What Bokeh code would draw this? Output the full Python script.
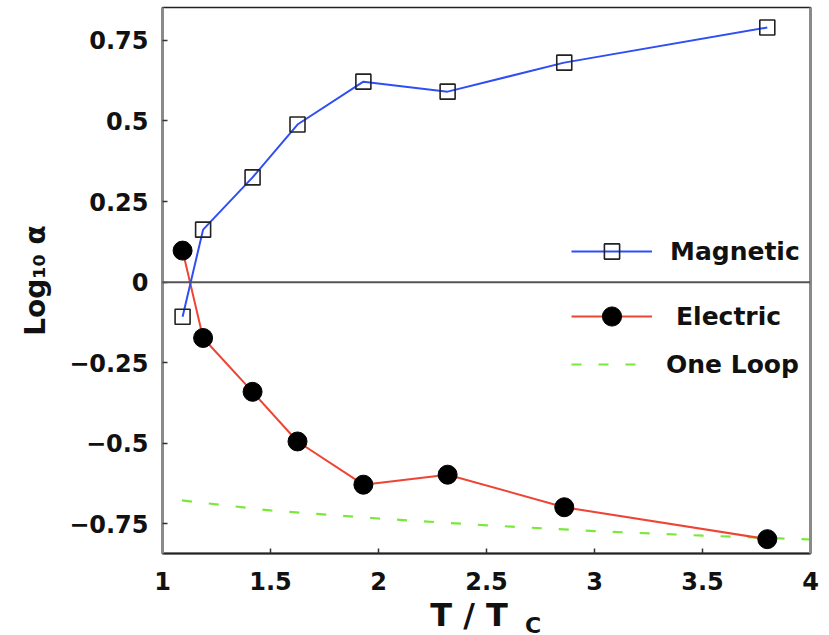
from bokeh.plotting import figure
from bokeh.layouts import column
from bokeh.models import (Range1d, FixedTicker, LinearAxis, Legend, LegendItem, Span)
from bokeh.core.properties import value
from bokeh.embed import file_html
from bokeh.resources import INLINE

# ---- data ----
t_points = [1.093, 1.188, 1.417, 1.625, 1.93, 2.32, 2.86, 3.80]
magnetic = [-0.107, 0.163, 0.325, 0.489, 0.622, 0.591, 0.681, 0.790]
electric = [0.098, -0.173, -0.340, -0.494, -0.628, -0.597, -0.698, -0.797]

loop_t = [1.09, 1.5, 2.0, 2.5, 3.0, 3.5, 4.0]
loop_y = [-0.677, -0.708, -0.733, -0.754, -0.772, -0.786, -0.798]

x_ticks = [1, 1.5, 2, 2.5, 3, 3.5, 4]
x_tick_labels = ["1", "1.5", "2", "2.5", "3", "3.5", "4"]
y_ticks = [-0.75, -0.5, -0.25, 0, 0.25, 0.5, 0.75]
y_tick_labels = ["\u22120.75", "\u22120.5", "\u22120.25", "0", "0.25", "0.5", "0.75"]
y_title = "Log\u2081\u2080 \u03b1"

FONT = "DejaVu Sans"
INK = "#111111"

# ---- layout sizes (px) ----
TOTAL_W, TOTAL_H = 829, 635
MAIN_H = 600
STRIP_H = TOTAL_H - MAIN_H   # x-title strip
BORDER_L, BORDER_R = 162, 19
FRAME_L, FRAME_R = BORDER_L, TOTAL_W - BORDER_R

p = figure(width=TOTAL_W, height=MAIN_H, output_backend="svg", toolbar_location=None,
           x_range=Range1d(1, 4), y_range=Range1d(-0.8415, 0.852),
           min_border_left=BORDER_L, min_border_right=BORDER_R, min_border_top=7,
           min_border_bottom=47)
p.grid.visible = False
p.background_fill_color = "white"
p.border_fill_color = "white"
p.outline_line_color = "#222222"
p.outline_line_width = 1.5

for ax, ticks, labels in ((p.xaxis[0], x_ticks, x_tick_labels),
                          (p.yaxis[0], y_ticks, y_tick_labels)):
    ax.ticker = FixedTicker(ticks=ticks)
    ax.major_label_overrides = {t: l for t, l in zip(ticks, labels)}
    ax.major_tick_in = 5
    ax.major_tick_out = 0
    ax.major_tick_line_color = "#333333"
    ax.major_tick_line_width = 1.5
    ax.minor_tick_line_color = None
    ax.major_label_text_font = FONT
    ax.major_label_text_font_style = "bold"
    ax.major_label_text_font_size = "24px"
    ax.major_label_text_color = INK

p.xaxis[0].axis_line_color = "#222222"
p.xaxis[0].axis_line_width = 2
p.xaxis[0].major_label_standoff = 18
p.yaxis[0].axis_line_color = "#8a8a8a"
p.yaxis[0].axis_line_width = 3
p.yaxis[0].major_label_standoff = 14
p.yaxis[0].axis_label = y_title
p.yaxis[0].axis_label_text_font = FONT
p.yaxis[0].axis_label_text_font_style = "bold"
p.yaxis[0].axis_label_text_font_size = "28px"
p.yaxis[0].axis_label_text_color = INK
p.yaxis[0].axis_label_standoff = 14

right_ax = LinearAxis(ticker=FixedTicker(ticks=[]), axis_line_color="#8a8a8a",
                      axis_line_width=3, major_tick_line_color=None,
                      minor_tick_line_color=None, major_label_text_font_size="0px")
p.add_layout(right_ax, "right")

p.add_layout(Span(location=0, dimension="width", line_color="#555555", line_width=2))

loop_r = p.line(loop_t, loop_y, line_color="#7ae83a", line_width=2.2, line_dash="10 17")
el_line = p.line(t_points, electric, line_color="#ee4433", line_width=2)
el_pts = p.scatter(t_points, electric, marker="circle", size=19,
                   fill_color="black", line_color="black")
mg_line = p.line(t_points, magnetic, line_color="#2f4ff5", line_width=2)
mg_pts = p.scatter(t_points, magnetic, marker="square", size=15,
                   fill_alpha=0, line_color="#222222", line_width=1.6)

def make_legend(label, renderers, center_y, gh, standoff):
    lg = Legend(items=[LegendItem(label=label, renderers=renderers)],
                location=(409, center_y - gh / 2), orientation="vertical",
                border_line_color=None, background_fill_alpha=0,
                padding=0, margin=0, spacing=0,
                glyph_width=81, glyph_height=gh, label_height=gh,
                label_standoff=standoff,
                label_text_font=FONT, label_text_font_style="bold",
                label_text_font_size="25px", label_text_color=INK)
    p.add_layout(lg, "center")

make_legend("Magnetic", [mg_line, mg_pts], 302, 38, 18)
make_legend("Electric", [el_line, el_pts], 237, 48, 24)
make_legend("One Loop", [loop_r], 189, 32, 14)

# ---- x-axis title strip: its frame is aligned with the main frame by the layout,
#      so its x range is expressed in page pixels of that frame ----
xl = figure(width=TOTAL_W, height=STRIP_H, output_backend="svg", toolbar_location=None,
            x_range=Range1d(FRAME_L, FRAME_R), y_range=Range1d(0, STRIP_H),
            x_axis_type=None, y_axis_type=None, min_border=0)
xl.grid.visible = False
xl.outline_line_color = None
xl.text(x=[468.5], y=[TOTAL_H - 614.5], text=["T / T"], text_font=value(FONT),
        text_font_style="bold", text_font_size="32px", text_color=INK,
        text_baseline="middle", text_align="center", text_line_height=0.9)
xl.text(x=[532.5], y=[TOTAL_H - 625], text=["C"], text_font=value(FONT),
        text_font_style="bold", text_font_size="22px", text_color=INK,
        text_baseline="middle", text_align="center", text_line_height=0.9)

layout = column(p, xl, spacing=0)
open("out.html", "w").write(file_html(layout, INLINE))
